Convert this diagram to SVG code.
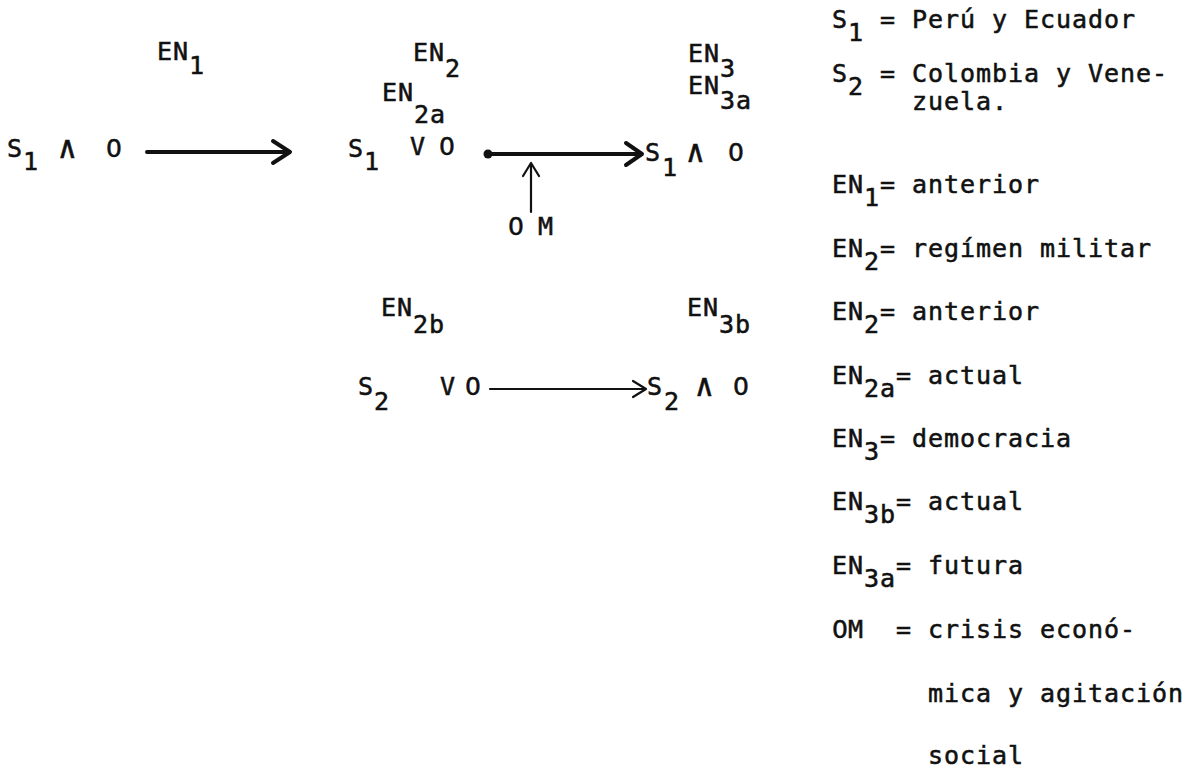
<svg xmlns="http://www.w3.org/2000/svg" width="1202" height="770" viewBox="0 0 1202 770">
<style>
text{font-family:"DejaVu Sans Mono","Liberation Mono",monospace;font-size:25px;letter-spacing:0.95px;fill:#111;stroke:#111;stroke-width:0.55px}
.z{font-family:"DejaVu Sans","Liberation Sans",sans-serif;letter-spacing:0}
.and{font-size:31px}
.thick{stroke:#111;stroke-width:4;fill:none;stroke-linecap:round;stroke-linejoin:round}
.thin{stroke:#111;stroke-width:2.2;fill:none;stroke-linecap:round;stroke-linejoin:round}
</style>
<rect width="1202" height="770" fill="#fff"/>
<g id="connectors">
<line class="thick" x1="147" y1="152" x2="287" y2="152"/>
<polyline class="thick" points="273,141 290,152 273,163"/>
<circle cx="488" cy="154" r="4.5" fill="#111"/>
<line class="thick" x1="488" y1="154" x2="639" y2="154"/>
<polyline class="thick" points="626,143 642,154 626,165"/>
<line class="thin" x1="531" y1="212" x2="531" y2="164"/>
<polyline class="thin" points="523,176 531,163 539,176"/>
<line class="thin" x1="490" y1="389" x2="644" y2="389"/>
<polyline class="thin" points="633,381 646,389 633,397"/>
</g>
<g id="en1"><text x="157" y="60">EN</text><text x="189" y="74">1</text></g>
<g id="s1-and-o-left"><text x="7" y="157">S</text><text x="23" y="170">1</text><text class="and" x="58" y="158">∧</text><text class="z" x="106" y="157">0</text></g>
<g id="en2"><text x="413" y="61">EN</text><text x="445" y="77">2</text></g>
<g id="en2a"><text x="382" y="101">EN</text><text x="414" y="123">2a</text></g>
<g id="s1-or-o"><text x="348" y="157">S</text><text x="364" y="170">1</text><text x="410" y="155">V</text><text class="z" x="439" y="155">0</text></g>
<g id="om"><text class="z" x="508" y="235">0</text><text x="538" y="235">M</text></g>
<g id="en3"><text x="688" y="62">EN</text><text x="720" y="77">3</text></g>
<g id="en3a"><text x="688" y="94">EN</text><text x="720" y="109">3a</text></g>
<g id="s1-and-o-right"><text x="645" y="161">S</text><text x="662" y="176">1</text><text class="and" x="686" y="162">∧</text><text class="z" x="728" y="161">0</text></g>
<g id="en2b"><text x="381" y="316">EN</text><text x="413" y="333">2b</text></g>
<g id="en3b"><text x="687" y="316">EN</text><text x="719" y="333">3b</text></g>
<g id="s2-or-o"><text x="358" y="395">S</text><text x="374" y="410">2</text><text x="440" y="395">V</text><text class="z" x="465" y="395">0</text></g>
<g id="s2-and-o"><text x="647" y="395">S</text><text x="664" y="410">2</text><text class="and" x="695" y="396">∧</text><text class="z" x="733" y="395">0</text></g>
<g id="legend">
<text x="832" y="28">S</text><text x="848" y="41">1</text><text x="880" y="28">= Perú y Ecuador</text>
<text x="832" y="82">S</text><text x="848" y="95">2</text><text x="880" y="82">= Colombia y Vene-</text>
<text x="912" y="110">zuela.</text>
<text x="832" y="193">EN</text><text x="864" y="206">1</text><text x="880" y="193">= anterior</text>
<text x="832" y="257">EN</text><text x="864" y="270">2</text><text x="880" y="257">= regímen militar</text>
<text x="832" y="320">EN</text><text x="864" y="333">2</text><text x="880" y="320">= anterior</text>
<text x="832" y="384">EN</text><text x="864" y="397">2a</text><text x="896" y="384">= actual</text>
<text x="832" y="447">EN</text><text x="864" y="460">3</text><text x="880" y="447">= democracia</text>
<text x="832" y="510">EN</text><text x="864" y="523">3b</text><text x="896" y="510">= actual</text>
<text x="832" y="574">EN</text><text x="864" y="587">3a</text><text x="896" y="574">= futura</text>
<text x="832" y="638"><tspan class="z">0</tspan><tspan x="848">M</tspan><tspan x="896">= crisis econó-</tspan></text>
<text x="928" y="702">mica y agitación</text>
<text x="928" y="764">social</text>
</g>
</svg>
